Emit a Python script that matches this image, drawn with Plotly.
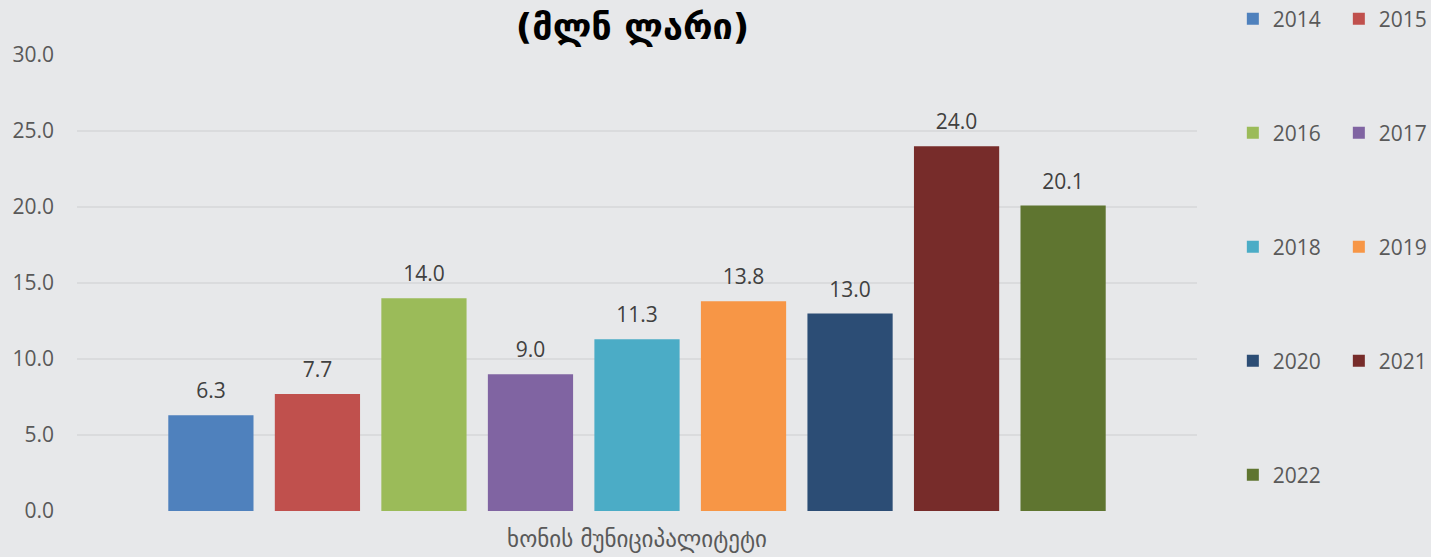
import plotly.graph_objects as go

category = ["ხონის მუნიციპალიტეტი"]
years = ["2014", "2015", "2016", "2017", "2018", "2019", "2020", "2021", "2022"]
values = [6.3, 7.7, 14.0, 9.0, 11.3, 13.8, 13.0, 24.0, 20.1]
colors = ["#4F81BD", "#C0504D", "#9BBB59", "#8064A2", "#4BACC6",
          "#F79646", "#2C4D75", "#772C2A", "#5F7530"]
y_ticks = [0, 5, 10, 15, 20, 25, 30]
title_text = "(მლნ ლარი)"

BG = "#E7E8EA"
fig = go.Figure()

legend_names = ["legend", "legend", "legend2", "legend2", "legend3", "legend3",
                "legend4", "legend4", "legend5"]

for i, (yr, v, c) in enumerate(zip(years, values, colors)):
    fig.add_trace(go.Bar(
        x=category, y=[v], name=yr, marker=dict(color=c, line=dict(width=0)),
        offsetgroup=yr, legend=legend_names[i], hoverinfo="skip",
    ))
    fig.add_trace(go.Scatter(
        x=category, y=[v], mode="markers+text", text=[f"{v:.1f}"],
        textposition="top center", offsetgroup=yr, showlegend=False,
        marker=dict(size=17, opacity=0), cliponaxis=False,
        textfont=dict(family="Open Sans", size=21, color="#404040"),
        hoverinfo="skip",
    ))

legend_common = dict(
    orientation="h", xanchor="left", yanchor="middle", x=1.032,
    entrywidth=61, entrywidthmode="pixels", bgcolor="rgba(0,0,0,0)",
    font=dict(family="Open Sans", size=21, color="#595959"),
    traceorder="normal", itemclick=False,
)
row_y = [1.079, 0.829, 0.579, 0.329, 0.079]

fig.update_layout(
    width=1431, height=557,
    margin=dict(l=77, r=234, t=55, b=46, autoexpand=False),
    paper_bgcolor=BG, plot_bgcolor=BG,
    barmode="group", scattermode="group",
    bargap=0.144, bargroupgap=0.2, scattergap=0.144,
    title=dict(text=f"<b>{title_text}</b>", x=632.5 / 1431, xanchor="center",
               y=1 - 26 / 557, yanchor="middle",
               font=dict(family="DejaVu Sans", size=36, color="#000000")),
    legend=dict(legend_common, y=row_y[0]),
    legend2=dict(legend_common, y=row_y[1]),
    legend3=dict(legend_common, y=row_y[2]),
    legend4=dict(legend_common, y=row_y[3]),
    legend5=dict(legend_common, y=row_y[4]),
    xaxis=dict(type="category", showgrid=False, zeroline=False, showline=False,
               ticks="", tickfont=dict(family="DejaVu Sans", size=23, color="#595959"),
               ticklabelstandoff=12),
    yaxis=dict(range=[0, 30], tickvals=y_ticks, tickformat=".1f",
               showgrid=True, gridcolor="#DADBDD", gridwidth=2,
               zeroline=False, showline=False, ticks="",
               tickfont=dict(family="Open Sans", size=21, color="#595959"),
               ticklabelstandoff=22),
    showlegend=True,
)

fig.write_html("out.html", config={"displayModeBar": False},
               post_script="document.body.style.margin='0';")
